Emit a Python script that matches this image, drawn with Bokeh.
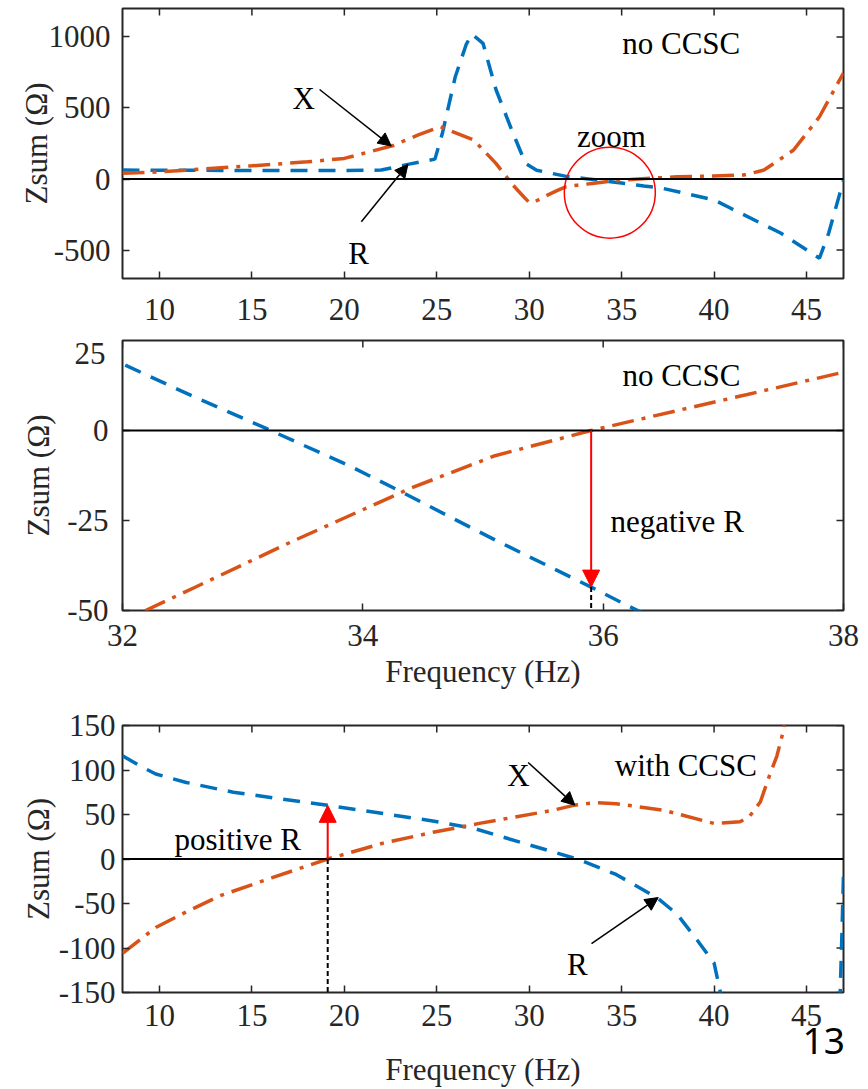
import numpy as np
from bokeh.plotting import figure
from bokeh.layouts import column
from bokeh.models import (Range1d, LinearAxis, FixedTicker, Span, Label, Arrow,
                          NormalHead)
from bokeh.embed import file_html
from bokeh.resources import INLINE

# ---- Zsum without CCSC (Ohm vs Hz) ----
f_R_no = [8, 10, 15, 20, 22, 23.5, 24.9, 25.3, 26.0, 26.6, 26.9, 27.5, 28.2, 29.1,
          29.8, 30.4, 32.0, 32.6, 33.2, 33.9, 34.3, 35.1, 35.9, 36.2, 37.2, 40.0,
          40.9, 43.6, 45.7, 46.2, 47.0]
R_no = [63, 62, 60, 60, 63, 105, 140, 320, 720, 950, 1020, 955, 630, 330,
        110, 62, 18.5, 9.3, 0.5, -10, -16.7, -30.4, -43.5, -48.6, -65, -147,
        -206, -380, -557, -380, -10]

f_X_no = [8, 10, 15, 18, 20, 22.6, 24.0, 25.2, 27.0, 28.2, 29.1, 29.7, 30.0, 30.3,
          30.8, 31.5, 32.0, 32.6, 33.4, 34.4, 35.1, 35.9, 36.6, 37.2, 38.0, 40.0,
          41.6, 42.7, 44.3, 45.7, 46.8, 47.0]
X_no = [40, 50, 93, 121, 145, 234, 310, 368, 274, 110, -40, -125, -165, -160,
        -125, -82, -53, -43.6, -31, -16, -7, 0, 5.4, 10.0, 16.2, 22,
        28, 63, 204, 438, 700, 745]

# ---- Zsum with CCSC ----
f_R_cc = [8, 9.0, 9.8, 11.45, 14.0, 19.1, 24.7, 27.0, 30.0, 32.7, 34.7, 36.9, 38.0,
          39.1, 40.0, 40.5, np.nan, 46.8, 46.92, 47.0]
R_cc = [116, 104, 95.5, 86, 75, 60.3, 43, 34.4, 15.9, -0.7, -17.4, -43.3, -62,
        -91.5, -117, -165, np.nan, -165, -80, -17]

f_X_cc = [8, 9.8, 11.2, 13.25, 16.1, 19.1, 22.1, 24.8, 27.3, 31.3, 32.4, 33.6,
          34.7, 37.25, 40.0, 41.4, 41.9, 42.5, 43.0, 43.4, 43.7, 44.0]
X_cc = [-106, -77, -62, -41.5, -21, 0, 17.8, 30, 40, 54.8, 60.3, 63.3,
        62.2, 54.8, 40, 41.8, 47.4, 64, 94, 116, 140, 175]

# ---- axes ----
xticks_wide = [10, 15, 20, 25, 30, 35, 40, 45]
xticks_zoom = [32, 34, 36, 38]
yticks_top = [-500, 0, 500, 1000]
yticks_mid = [-50, -25, 0, 25]
yticks_bot = [-150, -100, -50, 0, 50, 100, 150]
top_label_y = 21.4          # where the "25" label of the close-up sits
page_number = "13"
page_number_x = 45.93

SERIF = "Liberation Serif"
INK = "#262626"
BLUE = "#0072BD"
ORANGE = "#D95319"
FS = "31px"
R_DASH = "17 11"
X_DASH = "22 8 4 8"
TICK = 7
YLABEL = "Zsum (Ω)"
XLABEL = "Frequency (Hz)"


def style_axis(ax, ticks, standoff, font=SERIF, size=FS, color=INK):
    ax.ticker = FixedTicker(ticks=ticks)
    # plain hyphen for negative tick values
    ax.major_label_overrides = {t: str(t) for t in ticks}
    ax.axis_line_color = None
    ax.major_tick_in = TICK
    ax.major_tick_out = 0
    ax.minor_tick_line_color = None
    ax.major_tick_line_color = INK
    ax.major_tick_line_width = 1.5
    ax.major_label_text_font = font
    ax.major_label_text_font_size = size
    ax.major_label_text_color = color
    ax.major_label_standoff = standoff
    ax.axis_label_text_font = SERIF
    ax.axis_label_text_font_size = FS
    ax.axis_label_text_font_style = "normal"
    ax.axis_label_text_color = INK


def label_only_axis(ticks, standoff, **kw):
    # an axis that carries labels only (no line, no tick marks)
    ax = LinearAxis()
    style_axis(ax, ticks, standoff, **kw)
    ax.major_tick_line_color = None
    ax.major_tick_in = 0
    return ax


def panel(height, xr, yr, xt, yt, top, bottom, x_sd, y_sd):
    p = figure(width=868, height=height, x_range=Range1d(*xr), y_range=Range1d(*yr),
               output_backend="svg", toolbar_location=None,
               min_border_left=122, min_border_right=25,
               min_border_top=top, min_border_bottom=bottom)
    p.xgrid.visible = False
    p.ygrid.visible = False
    p.outline_line_color = INK
    p.outline_line_width = 2
    p.outline_line_alpha = 1
    style_axis(p.xaxis[0], xt, x_sd)
    style_axis(p.yaxis[0], yt, y_sd)
    # inward ticks on the top and right edges (half of each dash is clipped)
    p.scatter(x=xt, y=[yr[1]] * len(xt), marker="dash", angle=np.pi / 2,
              size=2 * TICK, line_color=INK, line_width=1.5)
    p.scatter(x=[xr[1]] * len(yt), y=yt, marker="dash",
              size=2 * TICK, line_color=INK, line_width=1.5)
    p.add_layout(Span(location=0, dimension="width", line_color="black", line_width=2))
    return p


def curves(p, fR, R, fX, X):
    p.line(fR, R, line_color=BLUE, line_width=3.5, line_dash=R_DASH)
    p.line(fX, X, line_color=ORANGE, line_width=3.5, line_dash=X_DASH)


def text(p, x, y, s, align="left"):
    p.add_layout(Label(x=x, y=y, text=s, text_font=SERIF, text_font_size=FS,
                       text_align=align, text_baseline="alphabetic",
                       text_color="black"))


def pointer(p, x0, y0, x1, y1):
    p.add_layout(Arrow(end=NormalHead(size=13, fill_color="black",
                                      line_color="black", line_width=1),
                       x_start=x0, y_start=y0, x_end=x1, y_end=y1,
                       line_color="black", line_width=1.5))


def marker_arrow(p, x, y0, y1, y_floor):
    # red arrow between the zero line and R, black dashed guide to the axis
    p.segment(x0=[x], y0=[min(y0, y1)], x1=[x], y1=[y_floor],
              line_color="black", line_width=2, line_dash="5 3")
    p.add_layout(Arrow(end=NormalHead(size=17, fill_color="red", line_color="red",
                                      line_width=1),
                       x_start=x, y_start=y0, x_end=x, y_end=y1,
                       line_color="red", line_width=2))


# ---- panel 1: wide band, no CCSC ----
p1 = panel(330, (8, 47), (-700, 1200), xticks_wide, yticks_top,
           top=8, bottom=52, x_sd=20, y_sd=12)
p1.yaxis.axis_label = YLABEL
p1.yaxis.axis_label_standoff = -8
curves(p1, f_R_no, R_no, f_X_no, X_no)
p1.scatter(x=[34.36], y=[-96], marker="circle", size=91, fill_color=None,
           line_color="red", line_width=1.5)
text(p1, 35.03, 953, "no CCSC")
text(p1, 34.45, 297, "zoom", align="center")
text(p1, 17.8, 567, "X", align="center")
text(p1, 20.77, -522, "R", align="center")
pointer(p1, 18.66, 630, 22.54, float(np.interp(22.54, f_X_no, X_no)))
pointer(p1, 20.92, -300, 23.44, float(np.interp(23.44, f_R_no, R_no)))

# ---- panel 2: 32-38 Hz close-up, no CCSC ----
p2 = panel(370, (32, 38), (-50, 25), xticks_zoom, yticks_mid[:-1],
           top=10, bottom=90, x_sd=14, y_sd=14)
p2.xaxis.axis_label = XLABEL
p2.xaxis.axis_label_standoff = 5
# the top value is set just below its tick so it stays inside the panel
ax_top_value = label_only_axis([top_label_y], -41)
ax_top_value.major_label_overrides = {top_label_y: str(yticks_mid[-1])}
ax_top_value.axis_label = YLABEL
ax_top_value.axis_label_standoff = 16
p2.add_layout(ax_top_value, "left")
curves(p2, f_R_no, R_no, f_X_no, X_no)
k = f_X_no.index(32.0)
f_zero_no = float(np.interp(0, X_no[k:k + 8], f_X_no[k:k + 8]))
R_at_zero_no = float(np.interp(f_zero_no, f_R_no, R_no))
marker_arrow(p2, f_zero_no, 0, R_at_zero_no, -50)
text(p2, 36.16, 15.3, "no CCSC")
text(p2, 36.06, -25.2, "negative R")

# ---- panel 3: wide band, with CCSC ----
p3 = panel(389, (8, 47), (-150, 150), xticks_wide, yticks_bot,
           top=25, bottom=93, x_sd=12, y_sd=7)
p3.yaxis.axis_label = YLABEL
p3.yaxis.axis_label_standoff = 0
ax_page = label_only_axis([page_number_x], -1, font="Noto Sans", size="37px",
                          color="black")
ax_page.major_label_overrides = {page_number_x: page_number}
ax_page.axis_label = XLABEL
ax_page.axis_label_standoff = -5
p3.add_layout(ax_page, "below")
curves(p3, f_R_cc, R_cc, f_X_cc, X_cc)
f_zero_cc = float(np.interp(0, X_cc[:9], f_X_cc[:9]))
R_at_zero_cc = float(np.interp(f_zero_cc, f_R_cc[:12], R_cc[:12]))
marker_arrow(p3, f_zero_cc, 0, R_at_zero_cc, -150)
text(p3, 34.63, 105.6, "with CCSC")
text(p3, 10.81, 21.5, "positive R")
text(p3, 29.42, 93.7, "X", align="center")
text(p3, 32.6, -119, "R", align="center")
pointer(p3, 29.94, 108.5, 32.47, float(np.interp(32.47, f_X_cc, X_cc)))
pointer(p3, 33.37, -95.2, 36.98, float(np.interp(36.98, f_R_cc[:12], R_cc[:12])))

layout = column(p1, p2, p3)
open("out.html", "w").write(file_html(layout, INLINE))
